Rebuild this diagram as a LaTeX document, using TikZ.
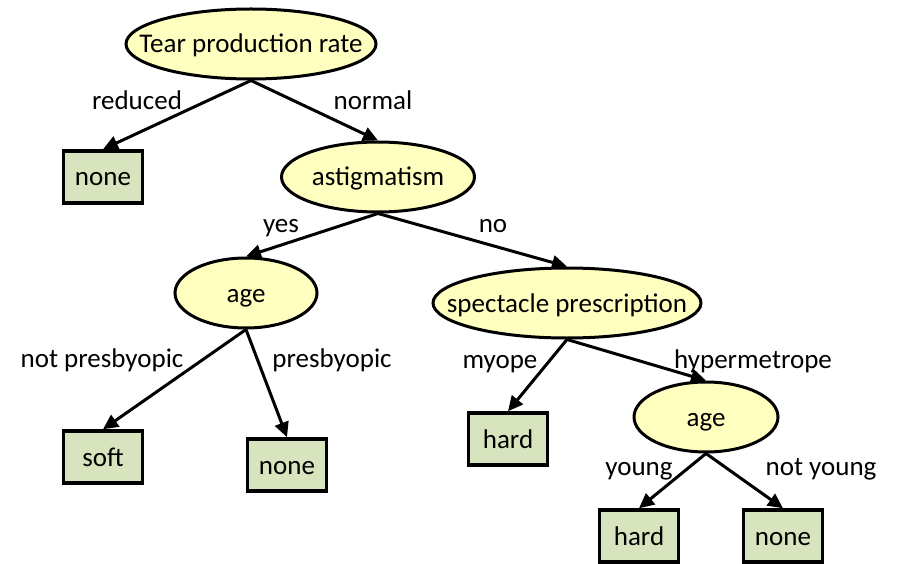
\documentclass[tikz,border=0pt]{standalone}
\usepackage{fontspec}
\setmainfont{Carlito}
\usepackage{tikz}
\usetikzlibrary{positioning,shapes.geometric,arrows.meta}
\definecolor{testfill}{HTML}{FFFFC0}
\definecolor{leaffill}{HTML}{D7E4BD}
\newcommand{\nb}[1]{\makebox[0pt]{#1}}

\begin{document}
\begin{tikzpicture}[x=1pt, y=-1pt, font=\fontsize{27}{32}\selectfont,
        test/.style={draw, ellipse, fill=testfill, line width=3pt, minimum height=70pt,
            inner sep=0pt, text height=20pt, text depth=2pt},
        leaf/.style={draw, rectangle, fill=leaffill, line width=3.5pt, minimum width=79pt,
            minimum height=52pt, inner sep=0pt, text height=20pt, text depth=2pt},
        lbl/.style={anchor=base, inner sep=0pt},
        branch/.style={line width=3pt, -{Triangle[length=15pt, width=14pt]}}]
            \useasboundingbox (0, 0) rectangle (902, 564);

            \node[test, minimum width=250pt] (tear) at (251, 44) {\nb{Tear production rate}};
            \node[leaf] (none1) at (103, 177) {none};
            \node[test, minimum width=193pt] (astig) at (378, 177) {\nb{astigmatism}};
            \node[test, minimum width=142pt] (ageA) at (246, 293) {\nb{age}};
            \node[test, minimum width=268pt] (spec) at (567, 303) {\nb{spectacle prescription}};
            \node[leaf] (soft) at (103, 457) {soft};
            \node[leaf] (none2) at (287, 465) {none};
            \node[leaf] (hard1) at (508, 439) {hard};
            \node[test, minimum width=144pt] (ageB) at (706, 417) {\nb{age}};
            \node[leaf] (hard2) at (639, 536) {hard};
            \node[leaf] (none3) at (783, 536) {none};

            \node[lbl] (lreduced) at (137, 110) {reduced};
            \node[lbl] (lnormal) at (373, 110) {normal};
            \node[lbl] (lyes) at (281, 233) {yes};
            \node[lbl] (lno) at (493, 233) {no};
            \node[lbl] (lnotpres) at (102, 367) {not presbyopic};
            \node[lbl] (lpres) at (332, 367) {presbyopic};
            \node[lbl] (lmyope) at (500, 368) {myope};
            \node[lbl] (lhyper) at (753, 368) {hypermetrope};
            \node[lbl] (lyoung) at (639, 475) {young};
            \node[lbl] (lnotyoung) at (821, 475) {not young};

            \draw[branch] (tear.south) -- (none1.north);
            \draw[branch] (tear.south) -- (astig.north);
            \draw[branch] (astig.south) -- (ageA.north);
            \draw[branch] (astig.south) -- (spec.north);
            \draw[branch] (ageA.south) -- (soft.north);
            \draw[branch] (ageA.south) -- (none2.north);
            \draw[branch] (spec.south) -- (hard1.north);
            \draw[branch] (spec.south) -- (ageB.north);
            \draw[branch] (ageB.south) -- (hard2.north);
            \draw[branch] (ageB.south) -- (none3.north);

        \end{tikzpicture}
\end{document}
